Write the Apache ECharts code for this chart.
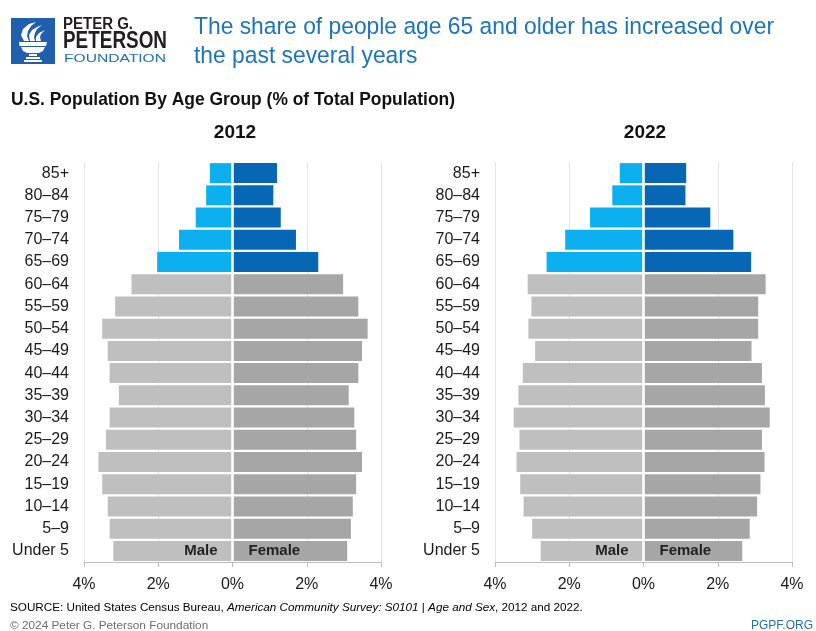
<!DOCTYPE html>
<html>
<head>
<meta charset="utf-8">
<script src="https://cdn.jsdelivr.net/npm/echarts@6/dist/echarts.min.js"></script>
<style>
  html, body { margin: 0; padding: 0; background: #fff; }
  #chart { width: 816px; height: 631px; }
</style>
</head>
<body>
<div id="chart"></div>
<script>
// ---- Data (bottom to top) ----
const ageGroups = ['Under 5','5–9','10–14','15–19','20–24','25–29','30–34','35–39','40–44','45–49','50–54','55–59','60–64','65–69','70–74','75–79','80–84','85+'];
const olderGroups = ['65–69','70–74','75–79','80–84','85+'];
const male2012   = [3.21,3.31,3.36,3.51,3.61,3.41,3.31,3.06,3.31,3.36,3.51,3.16,2.72,2.03,1.44,0.99,0.71,0.61];
const female2012 = [3.09,3.19,3.24,3.33,3.49,3.33,3.28,3.13,3.39,3.49,3.64,3.39,2.98,2.31,1.71,1.30,1.10,1.20];
const male2022   = [2.77,3.00,3.23,3.32,3.42,3.34,3.50,3.37,3.25,2.92,3.10,3.02,3.12,2.61,2.11,1.44,0.84,0.64];
const female2022 = [2.66,2.86,3.06,3.15,3.26,3.19,3.40,3.27,3.19,2.91,3.09,3.09,3.29,2.90,2.42,1.80,1.13,1.15];
const panelYears = ['2012', '2022'];

// ---- Styling ----
const BODY = "'Liberation Sans',Arial,sans-serif";
const C = {
  maleGrey: '#bfbfbf', femaleGrey: '#a6a6a6',
  maleBlue: '#0db0ef', femaleBlue: '#0767b4',
  title: '#1c75bc', text: '#1a1a1a'
};

// horizontal condensing of header text to mimic the condensed typeface
const measureCtx = document.createElement('canvas').getContext('2d');
function fitScale(text, size, weight, target) {
  measureCtx.font = (weight || 'normal') + ' ' + size + 'px ' + BODY;
  return target / measureCtx.measureText(text).width;
}
function condText(text, x, y, size, weight, fill, scaleX) {
  return { type: 'text', silent: true, x: x, y: y, scaleX: scaleX,
    style: { text: text, fontFamily: BODY, fontSize: size, fontWeight: weight || 'normal', fill: fill, textVerticalAlign: 'middle' } };
}

const chart = echarts.init(document.getElementById('chart'), null, { renderer: 'canvas' });

const grids = [
  { left: 84, top: 162, width: 297, height: 400 },
  { left: 495, top: 162, width: 297, height: 400 }
];

function makeSeries(vals, gridIdx, isMale) {
  return {
    type: 'bar',
    xAxisIndex: gridIdx, yAxisIndex: gridIdx,
    stack: 'pyr' + gridIdx,
    barCategoryGap: '10%',
    data: vals.map((v, i) => {
      const older = olderGroups.indexOf(ageGroups[i]) >= 0;
      const item = {
        value: isMale ? -v : v,
        itemStyle: { color: older ? (isMale ? C.maleBlue : C.femaleBlue) : (isMale ? C.maleGrey : C.femaleGrey) }
      };
      if (i === 0) {
        item.label = {
          show: true,
          formatter: isMale ? 'Male' : 'Female',
          position: isMale ? 'insideRight' : 'insideLeft',
          distance: isMale ? 15 : 16,
          fontFamily: BODY, fontWeight: 'bold', fontSize: 15, color: '#222'
        };
      }
      return item;
    }),
    markLine: isMale ? undefined : {
      silent: true, symbol: 'none', z: 10,
      label: { show: false },
      lineStyle: { color: '#ffffff', width: 2.6, type: 'solid' },
      data: [{ xAxis: 0 }]
    }
  };
}

const xAxes = grids.map((g, i) => ({
  type: 'value', gridIndex: i, min: -4, max: 4, interval: 2,
  axisLine: { show: true, onZero: false, lineStyle: { color: '#bdbdbd', width: 1 } },
  axisTick: { show: true, length: 5, lineStyle: { color: '#bdbdbd' } },
  splitLine: { show: true, lineStyle: { color: '#e4e4e4', width: 1 } },
  axisLabel: {
    margin: 15, fontSize: 16, fontFamily: BODY, color: C.text,
    formatter: v => Math.abs(v) + '%'
  }
}));

const yAxes = grids.map((g, i) => ({
  type: 'category', gridIndex: i, data: ageGroups,
  axisLine: { show: false }, axisTick: { show: false },
  axisLabel: { margin: 15, fontSize: 16, fontFamily: BODY, color: C.text }
}));

const W = { fill: '#fff' };
const title1 = 'The share of people age 65 and older has increased over';
const title2 = 'the past several years';
const subTitle = 'U.S. Population By Age Group (% of Total Population)';
const titleScale = fitScale(title1, 24.5, 'normal', 580);

const logo = [
  { type: 'rect', silent: true, shape: { x: 11, y: 18, width: 44, height: 46 }, style: { fill: '#1f5fad' } },
  { type: 'polygon', silent: true, shape: { points: [[24,41],[21,35],[23,29],[29,24],[36,22],[31,26],[28,31],[27,36],[29,41]] }, style: W },
  { type: 'polygon', silent: true, shape: { points: [[30,41],[29,35],[32,30],[37,27],[42,25],[37,29],[35,33],[34,37],[35,41]] }, style: W },
  { type: 'polygon', silent: true, shape: { points: [[36,41],[36,37],[39,33],[45,30],[41,34],[40,37],[41,41]] }, style: W },
  { type: 'polygon', silent: true, shape: { points: [[19,42],[47,42],[46,46],[19.5,46]] }, style: W },
  { type: 'polygon', silent: true, shape: { points: [[21,47],[45,47],[43,51],[39,53],[27,53],[23,51]] }, style: W },
  { type: 'rect', silent: true, shape: { x: 29, y: 54, width: 8, height: 2 }, style: W },
  { type: 'rect', silent: true, shape: { x: 26, y: 57, width: 14, height: 2 }, style: W },
  { type: 'rect', silent: true, shape: { x: 24, y: 60, width: 18, height: 2 }, style: W },
  condText('PETER G.', 63, 24.5, 16, 'bold', '#231f20', fitScale('PETER G.', 16, 'bold', 70)),
  condText('PETERSON', 63, 42, 23, 'bold', '#231f20', fitScale('PETERSON', 23, 'bold', 104)),
  condText('FOUNDATION', 64, 58.5, 11, 'normal', '#1f6fb5', fitScale('FOUNDATION', 11, 'normal', 102))
];

const texts = [
  condText(title1, 194, 27.5, 24.5, 'normal', C.title, titleScale),
  condText(title2, 194, 56.5, 24.5, 'normal', C.title, titleScale),
  condText(subTitle, 11, 99.5, 18.5, 'bold', '#111', fitScale(subTitle, 18.5, 'bold', 444)),
  { type: 'text', x: 235, y: 133, style: { text: panelYears[0], fontFamily: BODY, fontWeight: 'bold', fontSize: 19, fill: '#111', textAlign: 'center', textVerticalAlign: 'middle' } },
  { type: 'text', x: 645, y: 133, style: { text: panelYears[1], fontFamily: BODY, fontWeight: 'bold', fontSize: 19, fill: '#111', textAlign: 'center', textVerticalAlign: 'middle' } },
  { type: 'text', x: 10, y: 608, style: {
      text: '{a|SOURCE: United States Census Bureau, }{i|American Community Survey: S0101}{a| | }{i|Age and Sex}{a|, 2012 and 2022.}',
      textVerticalAlign: 'middle',
      rich: {
        a: { fontFamily: BODY, fontSize: 11.7, color: '#111' },
        i: { fontFamily: BODY, fontSize: 11.7, fontStyle: 'italic', color: '#111' }
      } } },
  { type: 'text', x: 10, y: 626, style: { text: '© 2024 Peter G. Peterson Foundation', fontFamily: BODY, fontSize: 11.8, fill: '#6d6d6d', textVerticalAlign: 'middle' } },
  { type: 'text', x: 813, y: 626, style: { text: 'PGPF.ORG', fontFamily: BODY, fontSize: 12, fill: '#1f6fb5', textAlign: 'right', textVerticalAlign: 'middle' } }
];

chart.setOption({
  animation: false,
  backgroundColor: '#ffffff',
  grid: grids,
  xAxis: xAxes,
  yAxis: yAxes,
  series: [
    makeSeries(male2012, 0, true),
    makeSeries(female2012, 0, false),
    makeSeries(male2022, 1, true),
    makeSeries(female2022, 1, false)
  ],
  graphic: logo.concat(texts)
});
</script>
</body>
</html>
